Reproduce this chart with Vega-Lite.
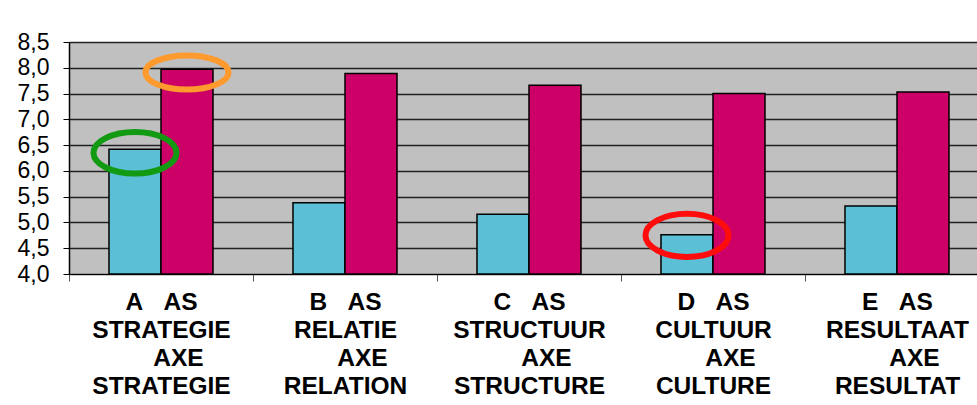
{
  "$schema": "https://vega.github.io/schema/vega-lite/v6.json",
  "width": 908,
  "height": 232,
  "autosize": {"type": "none"},
  "padding": {"left": 69, "top": 42, "right": 0, "bottom": 131},
  "background": "white",
  "config": {
    "view": {"fill": "#C0C0C0", "stroke": "#8a8a8a", "strokeWidth": 1},
    "font": "Liberation Sans"
  },
  "datasets": {
    "bars": [
      {"cat": "A\u00a0\u00a0\u00a0AS|STRATEGIE|\u200b\u00a0\u00a0\u00a0\u00a0\u00a0AXE|STRATEGIE", "series": "serie 1", "value": 6.42},
      {"cat": "A\u00a0\u00a0\u00a0AS|STRATEGIE|\u200b\u00a0\u00a0\u00a0\u00a0\u00a0AXE|STRATEGIE", "series": "serie 2", "value": 7.97},
      {"cat": "B\u00a0\u00a0\u00a0AS|RELATIE|\u200b\u00a0\u00a0\u00a0\u00a0\u00a0AXE|RELATION", "series": "serie 1", "value": 5.38},
      {"cat": "B\u00a0\u00a0\u00a0AS|RELATIE|\u200b\u00a0\u00a0\u00a0\u00a0\u00a0AXE|RELATION", "series": "serie 2", "value": 7.89},
      {"cat": "C\u00a0\u00a0\u00a0AS|STRUCTUUR|\u200b\u00a0\u00a0\u00a0\u00a0\u00a0AXE|STRUCTURE", "series": "serie 1", "value": 5.16},
      {"cat": "C\u00a0\u00a0\u00a0AS|STRUCTUUR|\u200b\u00a0\u00a0\u00a0\u00a0\u00a0AXE|STRUCTURE", "series": "serie 2", "value": 7.66},
      {"cat": "D\u00a0\u00a0\u00a0AS|CULTUUR|\u200b\u00a0\u00a0\u00a0\u00a0\u00a0AXE|CULTURE", "series": "serie 1", "value": 4.76},
      {"cat": "D\u00a0\u00a0\u00a0AS|CULTUUR|\u200b\u00a0\u00a0\u00a0\u00a0\u00a0AXE|CULTURE", "series": "serie 2", "value": 7.5},
      {"cat": "E\u00a0\u00a0\u00a0AS|RESULTAAT|\u200b\u00a0\u00a0\u00a0\u00a0\u00a0AXE|RESULTAT", "series": "serie 1", "value": 5.32},
      {"cat": "E\u00a0\u00a0\u00a0AS|RESULTAAT|\u200b\u00a0\u00a0\u00a0\u00a0\u00a0AXE|RESULTAT", "series": "serie 2", "value": 7.53}
    ],
    "rings": [
      {"cat": "A\u00a0\u00a0\u00a0AS|STRATEGIE|\u200b\u00a0\u00a0\u00a0\u00a0\u00a0AXE|STRATEGIE", "series": "serie 1", "value": 6.35, "ring": "green"},
      {"cat": "A\u00a0\u00a0\u00a0AS|STRATEGIE|\u200b\u00a0\u00a0\u00a0\u00a0\u00a0AXE|STRATEGIE", "series": "serie 2", "value": 7.91, "ring": "orange"},
      {"cat": "D\u00a0\u00a0\u00a0AS|CULTUUR|\u200b\u00a0\u00a0\u00a0\u00a0\u00a0AXE|CULTURE", "series": "serie 1", "value": 4.75, "ring": "red"}
    ]
  },
  "encoding": {
    "x": {
      "field": "cat",
      "type": "nominal",
      "sort": null,
      "title": null,
      "scale": {"range": [0, 920], "paddingInner": 0, "paddingOuter": 0},
      "axis": {
        "labelAngle": 0,
        "labelExpr": "split(datum.label, '|')",
        "labelFont": "Liberation Sans",
        "labelFontWeight": "bold",
        "labelFontSize": 24.5,
        "labelLineHeight": 28,
        "labelColor": "#000000",
        "labelPadding": 9,
        "labelLimit": 0,
        "labelOverlap": false,
        "tickBand": "extent",
        "tickSize": 7,
        "tickColor": "#555555",
        "tickWidth": 1,
        "domainColor": "#000000",
        "domainWidth": 1,
        "grid": false
      }
    },
    "xOffset": {
      "field": "series",
      "type": "nominal",
      "scale": {"domain": ["serie 1", "serie 2"], "paddingInner": 0, "paddingOuter": 0.769}
    },
    "y": {
      "field": "value",
      "type": "quantitative",
      "title": null,
      "scale": {"domain": [4, 8.5], "nice": false, "zero": false},
      "axis": {
        "values": [4, 4.5, 5, 5.5, 6, 6.5, 7, 7.5, 8, 8.5],
        "labelExpr": "replace(format(datum.value, '.1f'), '.', ',')",
        "labelFont": "Liberation Sans",
        "labelFontSize": 23,
        "labelColor": "#000000",
        "labelPadding": 14,
        "labelOverlap": false,
        "tickSize": 6,
        "tickColor": "#000000",
        "domainColor": "#000000",
        "domainWidth": 1.5,
        "grid": true,
        "gridColor": "#222222",
        "gridWidth": 1.4
      }
    }
  },
  "layer": [
    {
      "data": {"name": "bars"},
      "mark": {"type": "bar", "stroke": "#000000", "strokeWidth": 1.5},
      "encoding": {
        "y2": {"datum": 4},
        "fill": {
          "field": "series",
          "type": "nominal",
          "scale": {"domain": ["serie 1", "serie 2"], "range": ["#5BBFD6", "#CC0066"]},
          "legend": null
        }
      }
    },
    {
      "data": {"name": "rings"},
      "mark": {"type": "point", "filled": false, "strokeWidth": 6, "size": 6900, "opacity": 1, "clip": false},
      "encoding": {
        "stroke": {
          "field": "ring",
          "type": "nominal",
          "scale": {"domain": ["green", "orange", "red"], "range": ["#139A13", "#FF9A2E", "#FF0D0D"]},
          "legend": null
        },
        "shape": {
          "field": "ring",
          "type": "nominal",
          "scale": {
            "domain": ["green", "orange", "red"],
            "range": [
              "M-1,0A1,0.5,0,1,1,1,0A1,0.5,0,1,1,-1,0Z",
              "M-1,0A1,0.41,0,1,1,1,0A1,0.41,0,1,1,-1,0Z",
              "M-1,0A1,0.52,0,1,1,1,0A1,0.52,0,1,1,-1,0Z"
            ]
          },
          "legend": null
        }
      }
    }
  ]
}
